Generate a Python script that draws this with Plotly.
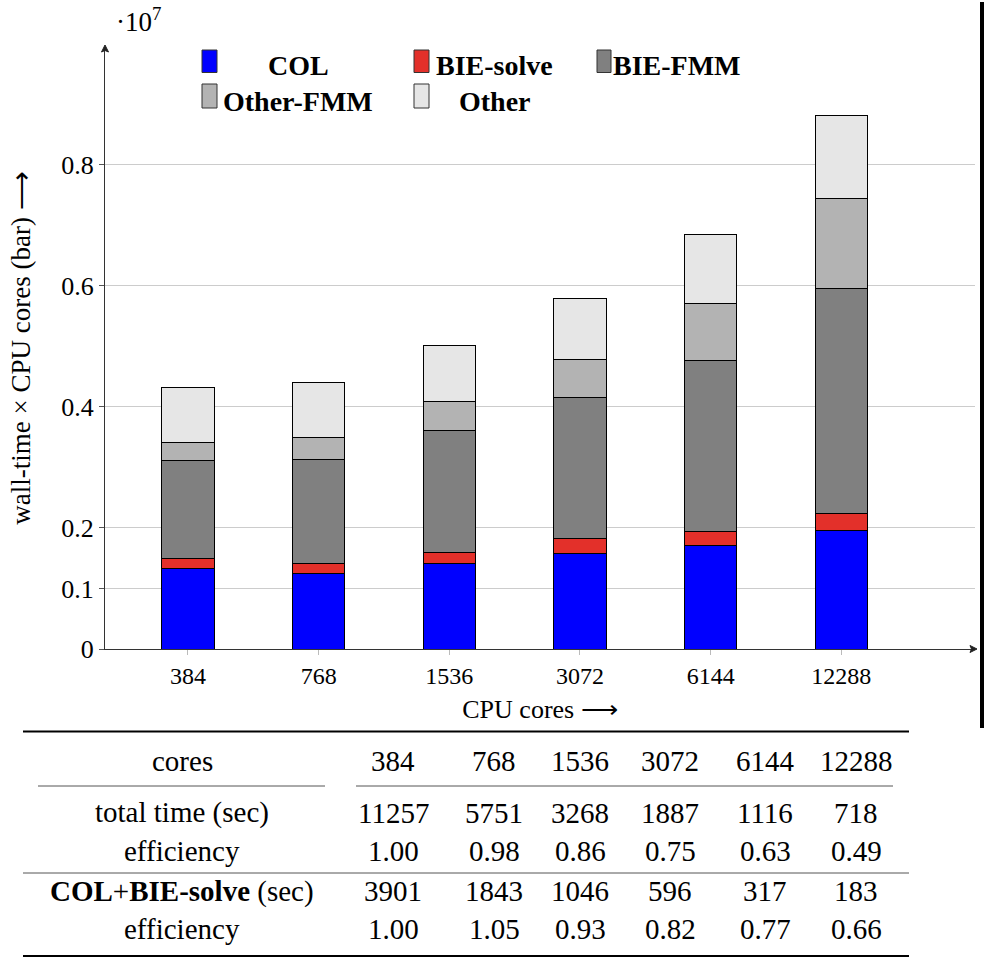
import plotly.graph_objects as go

# ---------------- data (values in units of 10^7 wall-time x cores) ----------------
cores = ["384", "768", "1536", "3072", "6144", "12288"]
col = [0.1329, 0.1251, 0.1405, 0.1577, 0.1714, 0.1962]
bie_solve = [0.0165, 0.0161, 0.0198, 0.0248, 0.0231, 0.0276]
bie_fmm = [0.1625, 0.1728, 0.2007, 0.2335, 0.2827, 0.3719]
other_fmm = [0.0302, 0.0354, 0.0473, 0.0633, 0.0937, 0.1481]
other = [0.0900, 0.0919, 0.0932, 0.0999, 0.1141, 0.1382]

series_names = ["COL", "BIE-solve", "BIE-FMM", "Other-FMM", "Other"]
series_colors = ["#0000ff", "#e3302a", "#808080", "#b3b3b3", "#e6e6e6"]

y_tick_vals = [0, 0.1, 0.2, 0.4, 0.6, 0.8]
y_tick_text = ["0", "0.1", "0.2", "0.4", "0.6", "0.8"]

# table
row_labels = ["total time (sec)", "efficiency", "<b>COL</b>+<b>BIE-solve</b> (sec)", "efficiency"]
total_time = ["11257", "5751", "3268", "1887", "1116", "718"]
eff_total = ["1.00", "0.98", "0.86", "0.75", "0.63", "0.49"]
colbie_time = ["3901", "1843", "1046", "596", "317", "183"]
eff_colbie = ["1.00", "1.05", "0.93", "0.82", "0.77", "0.66"]

# ---------------- layout geometry ----------------
W, H = 984, 957
L, R, T, B = 105, 9, 47, 308
PW, PH = W - L - R, H - T - B
FONT = "Liberation Serif"


def px(x):
    return (x - L) / PW


def py(y):
    return (H - B - y) / PH


fig = go.Figure()
xs = list(range(len(cores)))
for name, vals, colr in zip(series_names, [col, bie_solve, bie_fmm, other_fmm, other], series_colors):
    fig.add_trace(go.Bar(x=xs, y=vals, name=name, width=0.402,
                         marker=dict(color=colr, line=dict(color="#000000", width=1)),
                         showlegend=False))

shapes = []
ann = []

# legend (manual)
leg_boxes = [(202, 217, 50, 72.5, 0), (414, 429, 50, 72.5, 1), (597, 611, 50, 72.5, 2),
             (202, 217, 84, 108, 3), (414, 429, 84, 108, 4)]
for x0, x1, y0, y1, i in leg_boxes:
    shapes.append(dict(type="rect", xref="paper", yref="paper", x0=px(x0), x1=px(x1),
                       y0=py(y1), y1=py(y0), fillcolor=series_colors[i],
                       line=dict(color="#333333", width=1)))
leg_text = [(298, 65.5, 0), (494, 65.5, 1), (677, 65.5, 2), (298, 101, 3), (495, 101, 4)]
for x, y, i in leg_text:
    ann.append(dict(xref="paper", yref="paper", x=px(x), y=py(y), xanchor="center", yanchor="middle",
                    text="<b>" + series_names[i] + "</b>", showarrow=False,
                    font=dict(family=FONT, size=28, color="#000")))

# axis arrowheads (small filled triangles)
def tri(pts):
    d = "M " + " L ".join(f"{px(a):.5f},{py(b):.5f}" for a, b in pts) + " Z"
    shapes.append(dict(type="path", xref="paper", yref="paper", path=d,
                       fillcolor="#222222", line=dict(color="#222222", width=1)))

tri([(977, 649), (970, 645.5), (971.5, 649), (970, 652.5)])
tri([(105, 45), (101.5, 52), (105, 50.5), (108.5, 52)])

# exponent
ann.append(dict(xref="paper", yref="paper", x=px(114), y=py(20), xanchor="left", yanchor="middle",
                text="·10<sup>7</sup>", showarrow=False, font=dict(family=FONT, size=27, color="#000")))

# right black bar
shapes.append(dict(type="rect", xref="paper", yref="paper", x0=px(980), x1=px(985),
                   y0=py(728), y1=py(2), fillcolor="#000", line=dict(width=0)))

# table rules
def hline(x0, x1, y, w, c="#000"):
    shapes.append(dict(type="line", xref="paper", yref="paper", x0=px(x0), x1=px(x1),
                       y0=py(y), y1=py(y), line=dict(color=c, width=w)))

hline(23, 909, 731.5, 2)
hline(38, 325, 786, 1, "#555")
hline(356, 893, 786, 1, "#555")
hline(23, 909, 873, 1, "#555")
hline(23, 909, 956, 2)

col_x = [393, 494, 580, 670, 765, 856]
label_x = 182
rows_y = [812.5, 851, 891, 929]
tfont = dict(family=FONT, size=29, color="#000")

ann.append(dict(xref="paper", yref="paper", x=px(label_x), y=py(761), xanchor="center", yanchor="middle",
                text="cores", showarrow=False, font=tfont))
for cx, c in zip(col_x, cores):
    ann.append(dict(xref="paper", yref="paper", x=px(cx), y=py(761), xanchor="center", yanchor="middle",
                    text=c, showarrow=False, font=tfont))
for ry, lab, vals in zip(rows_y, row_labels, [total_time, eff_total, colbie_time, eff_colbie]):
    ann.append(dict(xref="paper", yref="paper", x=px(label_x), y=py(ry), xanchor="center",
                    yanchor="middle", text=lab, showarrow=False, font=tfont))
    for cx, v in zip(col_x, vals):
        ann.append(dict(xref="paper", yref="paper", x=px(cx), y=py(ry), xanchor="center",
                        yanchor="middle", text=v, showarrow=False, font=tfont))

fig.update_layout(
    width=W, height=H, barmode="stack",
    margin=dict(l=L, r=R, t=T, b=B, pad=0),
    paper_bgcolor="white", plot_bgcolor="white",
    font=dict(family=FONT, size=25, color="#000"),
    shapes=shapes, annotations=ann,
    xaxis=dict(range=[-0.635, 6.023], tickvals=xs, ticktext=cores, showgrid=False, zeroline=False,
               showline=True, linecolor="#333333", linewidth=1, ticks="outside", ticklen=5,
               tickcolor="#bbbbbb", tickfont=dict(family=FONT, size=24),
               title=dict(text="CPU cores ⟶", font=dict(family=FONT, size=26), standoff=12)),
    yaxis=dict(range=[0, 0.995], tickvals=y_tick_vals, ticktext=y_tick_text, showgrid=True,
               gridcolor="#cccccc", gridwidth=1, zeroline=False, showline=True, linecolor="#333333",
               linewidth=1, ticks="outside", ticklen=5, tickcolor="#555555",
               tickfont=dict(family=FONT, size=26),
               title=dict(text="wall-time × CPU cores (bar) ⟶", font=dict(family=FONT, size=27),
                          standoff=22)),
)

fig.write_html("out.html", config={"displayModeBar": False},
               post_script="document.body.style.margin='0';document.body.style.overflow='hidden';")
